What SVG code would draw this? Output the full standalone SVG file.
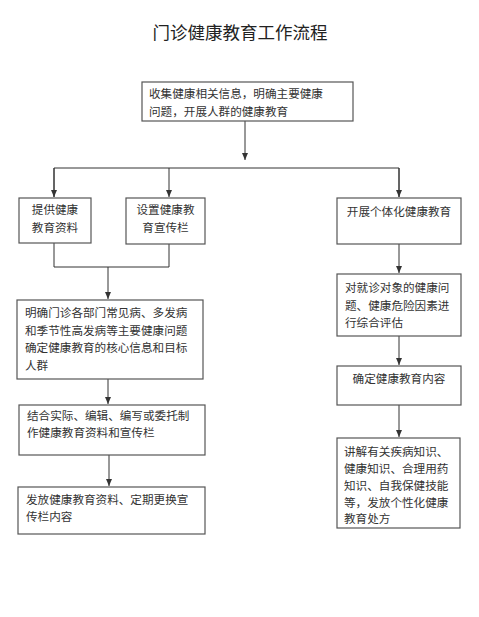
<svg xmlns="http://www.w3.org/2000/svg" width="479" height="617" viewBox="0 0 479 617">
<style>
.box{fill:#fff;stroke:#555;stroke-width:1.2}
.t{font-family:"Noto Sans CJK SC","Liberation Sans",sans-serif;font-size:11.6px;fill:#333}
.c{text-anchor:middle}
.ln{fill:none;stroke:#333;stroke-width:1}
.title{font-family:"Noto Sans CJK SC",sans-serif;font-size:17.5px;fill:#222;text-anchor:middle}
</style>
<defs>
<marker id="ah" markerWidth="8" markerHeight="8" refX="7" refY="4" orient="auto" markerUnits="userSpaceOnUse">
<path d="M0,1 L7,4 L0,7 Z" fill="#333"/>
</marker>
</defs>
<rect width="479" height="617" fill="#fff"/>
<text class="title" x="240" y="39">门诊健康教育工作流程</text>
<g id="connectors">
<line class="ln" x1="245" y1="121" x2="245" y2="160" marker-end="url(#ah)"/>
<polyline class="ln" points="54,197 54,168 399,168 399,197"/>
<line class="ln" x1="54" y1="168" x2="54" y2="197" marker-end="url(#ah)"/>
<line class="ln" x1="169" y1="168" x2="169" y2="197" marker-end="url(#ah)"/>
<line class="ln" x1="399" y1="168" x2="399" y2="197" marker-end="url(#ah)"/>
<polyline class="ln" points="54,243 54,267 169,267 169,244"/>
<line class="ln" x1="108" y1="267" x2="108" y2="299" marker-end="url(#ah)"/>
<line class="ln" x1="108" y1="379" x2="108" y2="404" marker-end="url(#ah)"/>
<line class="ln" x1="109" y1="455" x2="109" y2="486" marker-end="url(#ah)"/>
<line class="ln" x1="399" y1="244" x2="399" y2="273" marker-end="url(#ah)"/>
<line class="ln" x1="399" y1="336" x2="399" y2="365" marker-end="url(#ah)"/>
<line class="ln" x1="399" y1="405" x2="399" y2="437" marker-end="url(#ah)"/>
</g>
<g id="n1">
<rect class="box" x="142" y="82" width="211" height="39"/>
<text class="t" x="149" y="98">收集健康相关信息，明确主要健康</text>
<text class="t" x="149" y="116">问题，开展人群的健康教育</text>
</g>
<g id="n2">
<rect class="box" x="19" y="198" width="72" height="45"/>
<text class="t c" x="55" y="214">提供健康</text>
<text class="t c" x="55" y="232">教育资料</text>
</g>
<g id="n3">
<rect class="box" x="126" y="198" width="79" height="46"/>
<text class="t c" x="165.5" y="214">设置健康教</text>
<text class="t c" x="165.5" y="232">育宣传栏</text>
</g>
<g id="n4">
<rect class="box" x="337" y="198" width="124" height="46"/>
<text class="t c" x="399" y="216">开展个体化健康教育</text>
</g>
<g id="n5">
<rect class="box" x="17" y="300" width="186" height="79"/>
<text class="t" x="25" y="317">明确门诊各部门常见病、多发病</text>
<text class="t" x="25" y="334.5">和季节性高发病等主要健康问题</text>
<text class="t" x="25" y="352">确定健康教育的核心信息和目标</text>
<text class="t" x="25" y="369.5">人群</text>
</g>
<g id="n6">
<rect class="box" x="19" y="405" width="186" height="50"/>
<text class="t" x="27" y="420">结合实际、编辑、编写或委托制</text>
<text class="t" x="27" y="437">作健康教育资料和宣传栏</text>
</g>
<g id="n7">
<rect class="box" x="18" y="487" width="187" height="47"/>
<text class="t" x="26" y="504">发放健康教育资料、定期更换宣</text>
<text class="t" x="26" y="521">传栏内容</text>
</g>
<g id="n8">
<rect class="box" x="337" y="274" width="124" height="62"/>
<text class="t" x="345" y="292">对就诊对象的健康问</text>
<text class="t" x="345" y="309.5">题、健康危险因素进</text>
<text class="t" x="345" y="327">行综合评估</text>
</g>
<g id="n9">
<rect class="box" x="337" y="366" width="124" height="39"/>
<text class="t c" x="399" y="383">确定健康教育内容</text>
</g>
<g id="n10">
<rect class="box" x="337" y="438" width="123" height="90"/>
<text class="t" x="344" y="456">讲解有关疾病知识、</text>
<text class="t" x="344" y="473">健康知识、合理用药</text>
<text class="t" x="344" y="490">知识、自我保健技能</text>
<text class="t" x="344" y="507">等，发放个性化健康</text>
<text class="t" x="344" y="523">教育处方</text>
</g>
</svg>
